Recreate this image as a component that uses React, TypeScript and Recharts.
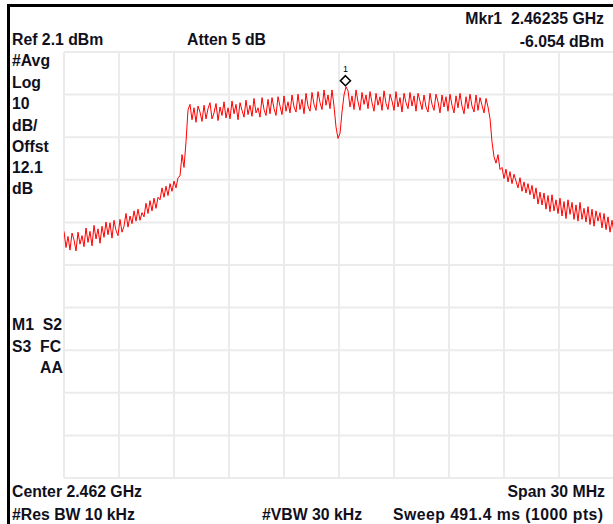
import React from "react";
import { LineChart, Line, XAxis, YAxis, CartesianGrid, ReferenceDot } from "recharts";

// Sweep settings (MHz / dBm)
const CENTER_MHZ = 2462;
const SPAN_MHZ = 30;
const REF_DBM = 2.1;
const DB_PER_DIV = 10;
const DIVS = 10;

// Marker
const MARKER_FREQ = 2462.35;
const MARKER_DBM = -6.054;

// Trace levels (dBm), left to right
const LEVELS_LOW_LEFT = [
  -40.0, -43.8, -41.2, -44.4, -40.4, -42.0, -44.6, -40.2, -43.0, -41.0,
  -43.6, -39.2, -42.6, -40.0, -43.4, -38.6, -41.8, -39.4, -42.8, -38.8,
  -41.4, -37.8, -40.8, -38.0, -41.6, -37.4, -39.8, -41.0, -37.2, -40.2,
  -38.8, -35.8, -39.0, -36.4, -38.2, -35.2, -37.6, -34.8, -37.4, -35.6,
  -36.6, -33.4, -35.8, -32.8, -35.2, -32.2, -34.6, -32.0,
  -32.6, -29.8, -32.0, -29.4, -31.6, -28.8, -30.6,
  -28.2, -29.8, -27.4, -27.0,
  -22.0, -25.0, -19.0,
  -11.5,
];
const LEVELS_PLATEAU_LEFT = [
  -10.2, -13.8, -11.0, -14.4, -10.6, -12.0, -14.2, -10.4, -13.6, -11.2,
  -9.8, -13.6, -12.2, -10.0, -14.0, -10.8, -12.8, -9.6, -13.4, -11.0,
  -13.6, -9.4, -12.4, -10.2, -13.8, -9.8, -11.6, -13.2, -9.2, -12.6,
  -10.4, -13.0, -8.8, -12.2, -11.0, -13.2, -8.6, -11.4, -12.8, -9.0,
  -12.4, -8.6, -11.2, -12.8, -8.4, -10.6, -12.6, -8.2, -11.8, -9.6,
  -12.2, -8.0, -10.8, -12.0, -7.8, -11.4, -9.0, -12.4, -7.6, -10.6,
  -11.8, -7.4, -10.2, -11.6, -7.2, -9.8, -11.4, -6.8, -10.4, -8.0, -11.2, -6.8,
  -10.6,
];
const LEVELS_NOTCH = [-15.5, -18.2, -17.0, -12.0, -8.0, -6.054];
const LEVELS_PLATEAU_RIGHT = [
  -7.0, -10.8, -8.2, -11.4, -6.8, -9.6, -11.6, -7.4, -10.2, -8.0,
  -11.2, -7.2, -9.8, -11.8, -7.6, -10.4, -8.4, -11.6, -7.0, -10.0,
  -11.4, -7.8, -9.4, -11.6, -7.2, -10.8, -8.6, -12.0, -7.6, -9.8,
  -11.2, -7.4, -10.6, -8.2, -11.8, -7.6, -9.4, -11.4, -8.0, -10.8,
  -12.0, -7.6, -10.2, -11.6, -7.8, -9.6, -12.2, -8.0, -10.8, -8.4,
  -11.8, -7.8, -10.4, -12.2, -8.2, -11.0, -7.6, -10.6, -12.4, -8.4,
  -11.2, -7.8, -10.6, -12.0, -8.0, -11.6, -8.6, -10.4, -12.2, -8.8,
];
const LEVELS_EDGE_RIGHT = [-10.8, -13.5, -19.0, -22.5, -24.0, -22.0, -25.5];
const LEVELS_LOW_RIGHT = [
  -25.0, -27.6, -25.4, -28.4, -26.0, -28.8, -26.6,
  -28.2, -29.8, -27.4, -30.6, -28.4, -31.0, -28.8,
  -31.4, -29.2, -32.4, -29.8, -33.6, -30.8, -33.8,
  -31.0, -34.8, -31.6, -35.4, -31.4, -35.2, -32.6,
  -35.8, -32.2, -36.4, -33.0, -37.0, -32.6, -36.0,
  -33.2, -37.2, -33.8, -37.6, -33.2, -37.2, -34.6,
  -37.8, -34.2, -38.4, -34.8, -38.8, -35.2, -37.6,
  -35.6, -39.2, -35.8, -39.6, -36.6, -40.2, -37.4, -40.4,
];

const LEVELS = [
  ...LEVELS_LOW_LEFT,
  ...LEVELS_PLATEAU_LEFT,
  ...LEVELS_NOTCH,
  ...LEVELS_PLATEAU_RIGHT,
  ...LEVELS_EDGE_RIGHT,
  ...LEVELS_LOW_RIGHT,
];

const START = CENTER_MHZ - SPAN_MHZ / 2;
const STOP = CENTER_MHZ + SPAN_MHZ / 2;
const BOTTOM = REF_DBM - DB_PER_DIV * DIVS;

const data = LEVELS.map((v, i) => ({ f: START + (i * SPAN_MHZ) / (LEVELS.length - 1), v }));
const xTicks = Array.from({ length: DIVS + 1 }, (_, i) => START + (i * SPAN_MHZ) / DIVS);
const yTicks = Array.from({ length: DIVS + 1 }, (_, i) => REF_DBM - i * DB_PER_DIV);

const FONT = '"Liberation Sans", Arial, sans-serif';
const TEXT_COLOR = "#10101c";

const Label = ({ x, y, right, spacing, children }: any) => (
  <div
    style={{
      position: "absolute",
      top: y - 9,
      left: right === undefined ? x : undefined,
      right: right !== undefined ? 613 - right : undefined,
      lineHeight: "18px",
      fontSize: 15.8,
      fontWeight: 700,
      fontFamily: FONT,
      color: TEXT_COLOR,
      whiteSpace: "pre",
      letterSpacing: spacing ?? 0,
    }}
  >
    {children}
  </div>
);

const MarkerShape = (props: any) => {
  const { cx, cy } = props;
  if (cx == null || cy == null) return null;
  const c = cy - 6;
  const h = 5;
  return (
    <g>
      <polygon
        points={`${cx},${c - h} ${cx + h},${c} ${cx},${c + h} ${cx - h},${c}`}
        fill="#fff"
        stroke="#000"
        strokeWidth={1.6}
      />
      <text x={cx} y={c - 9} textAnchor="middle" fontSize={9} fontFamily={FONT} fill="#000">
        1
      </text>
    </g>
  );
};

export default function App() {
  return (
    <div
      style={{
        position: "fixed",
        left: 0,
        top: 0,
        width: 613,
        height: 524,
        overflow: "hidden",
        background: "#fff",
      }}
    >
      <div style={{ position: "absolute", left: 0, top: 0 }}>
        <LineChart
          width={614}
          height={524}
          data={data}
          margin={{ top: 52, left: 64, right: 0, bottom: 46 }}
        >
          <CartesianGrid stroke="#ebebeb" strokeWidth={2} />
          <XAxis
            dataKey="f"
            type="number"
            domain={[START, STOP]}
            ticks={xTicks}
            hide
            allowDataOverflow
          />
          <YAxis type="number" domain={[BOTTOM, REF_DBM]} ticks={yTicks} hide allowDataOverflow />
          <Line
            dataKey="v"
            stroke="#ff0000"
            strokeWidth={1}
            dot={false}
            isAnimationActive={false}
            type="linear"
          />
          <ReferenceDot x={MARKER_FREQ} y={MARKER_DBM} shape={MarkerShape} />
        </LineChart>
      </div>
      <div
        style={{
          position: "absolute",
          left: 7,
          top: 4,
          width: 700,
          height: 700,
          borderLeft: "3px solid #000",
          borderTop: "3px solid #000",
          pointerEvents: "none",
        }}
      />
      <Label right={604} y={19}>{"Mkr1  2.46235 GHz"}</Label>
      <Label x={12} y={40}>Ref 2.1 dBm</Label>
      <Label x={187} y={40}>Atten 5 dB</Label>
      <Label right={604} y={42}>-6.054 dBm</Label>
      <Label x={12} y={61}>#Avg</Label>
      <Label x={12} y={83}>Log</Label>
      <Label x={12} y={104}>10</Label>
      <Label x={12} y={126}>dB/</Label>
      <Label x={12} y={147}>Offst</Label>
      <Label x={12} y={168}>12.1</Label>
      <Label x={12} y={189}>dB</Label>
      <Label x={12} y={325}>{"M1  S2"}</Label>
      <Label x={12} y={347}>{"S3  FC"}</Label>
      <Label x={40} y={368}>AA</Label>
      <Label x={12} y={492}>Center 2.462 GHz</Label>
      <Label right={605} y={492}>Span 30 MHz</Label>
      <Label x={12} y={515}>#Res BW 10 kHz</Label>
      <Label x={262} y={515}>#VBW 30 kHz</Label>
      <Label x={393} y={515} spacing={0.45}>Sweep 491.4 ms (1000 pts)</Label>
    </div>
  );
}
